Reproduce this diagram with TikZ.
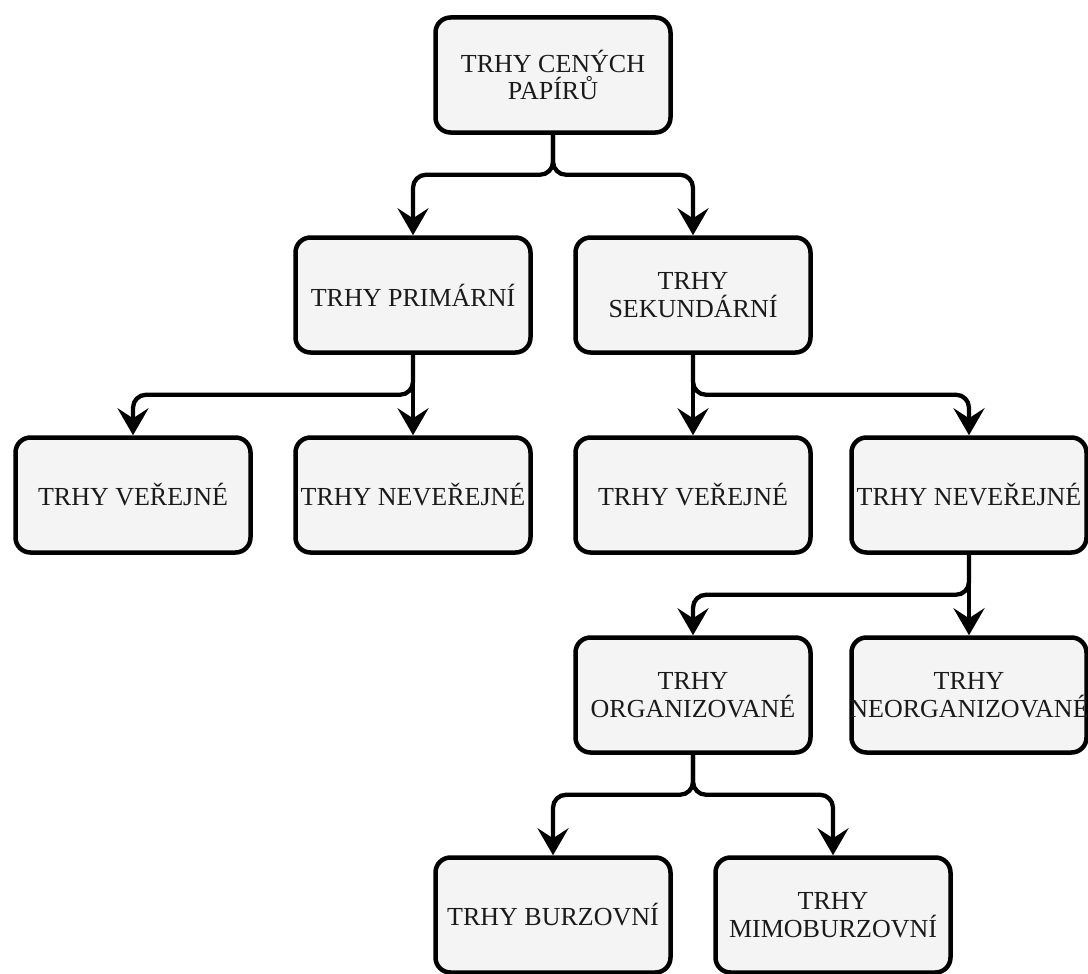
\documentclass[tikz,border=0pt]{standalone}
\usepackage{fontspec}
\setmainfont{Liberation Serif}
\usetikzlibrary{arrows.meta}
\definecolor{boxfill}{HTML}{F4F4F4}
\definecolor{txt}{HTML}{1A1A1A}
\begin{document}
\begin{tikzpicture}[x=1pt,y=-1pt,
  box/.style={draw=black, line width=4.5pt, fill=boxfill, rounded corners=15pt,
    minimum width=235pt, minimum height=115pt, inner ysep=2pt, inner xsep=-20pt, align=center,
    font=\fontsize{26}{27.5}\selectfont, text=txt},
  conn/.style={draw=black, line width=4.3pt, rounded corners=13pt,
    -{Stealth[length=27pt, width=31pt, inset=10pt]}}]
\useasboundingbox (0,0) rectangle (1088,974);
\node[box] (root) at (553,75) {TRHY CENÝCH\\PAPÍRŮ};
\node[box] (prim) at (413,295) {TRHY PRIMÁRNÍ};
\node[box] (sek)  at (693,295) {TRHY\\SEKUNDÁRNÍ};
\node[box] (pver) at (133,495) {TRHY VEŘEJNÉ};
\node[box] (pnev) at (413,495) {TRHY NEVEŘEJNÉ};
\node[box] (sver) at (693,495) {TRHY VEŘEJNÉ};
\node[box] (snev) at (969,495) {TRHY NEVEŘEJNÉ};
\node[box] (org)  at (693,695) {TRHY\\ORGANIZOVANÉ};
\node[box] (neorg) at (969,695) {TRHY\\NEORGANIZOVANÉ};
\node[box] (burz) at (553,915) {TRHY BURZOVNÍ};
\node[box] (mimo) at (833,915) {TRHY\\MIMOBURZOVNÍ};
\draw[conn] (root.south) -- ++(0,40) -| (prim.north);
\draw[conn] (root.south) -- ++(0,40) -| (sek.north);
\draw[conn] (prim.south) -- ++(0,40) -| (pver.north);
\draw[conn] (prim.south) -- (pnev.north);
\draw[conn] (sek.south) -- (sver.north);
\draw[conn] (sek.south) -- ++(0,40) -| (snev.north);
\draw[conn] (snev.south) -- ++(0,40) -| (org.north);
\draw[conn] (snev.south) -- (neorg.north);
\draw[conn] (org.south) -- ++(0,40) -| (burz.north);
\draw[conn] (org.south) -- ++(0,40) -| (mimo.north);
\end{tikzpicture}
\end{document}
